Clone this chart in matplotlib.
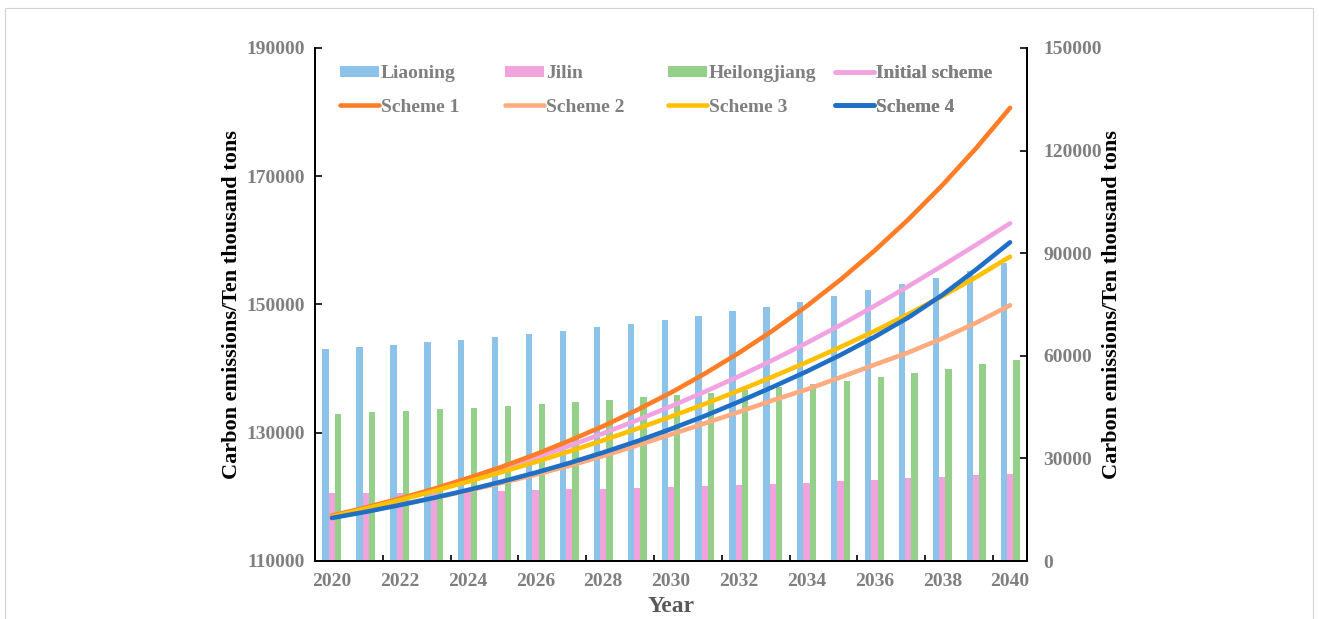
import numpy as np
import matplotlib
matplotlib.use("Agg")
import matplotlib.pyplot as plt
from matplotlib.lines import Line2D
from matplotlib.patches import Patch, Rectangle

plt.rcParams['font.family'] = ['Liberation Serif', 'DejaVu Serif']
plt.rcParams['font.weight'] = 'bold'

years = list(range(2020, 2041))

# provincial emissions (right axis)
liaoning = [61900, 62490, 63160, 63950, 64710, 65500, 66370, 67340, 68330, 69390, 70470,
            71730, 73010, 74360, 75820, 77490, 79150, 80910, 82840, 84710, 87140]
jilin = [19800, 19850, 19970, 20180, 20380, 20560, 20760, 20970, 21140, 21430, 21730,
         22020, 22310, 22600, 22900, 23300, 23690, 24180, 24650, 25060, 25530]
heilongjiang = [42980, 43480, 43950, 44360, 44830, 45320, 45910, 46490, 47160, 47870, 48540,
                49210, 50000, 50790, 51750, 52720, 53890, 54970, 56230, 57520, 58770]

# scenario totals (left axis)
initial_scheme = [116940, 118270, 119670, 121150, 122710, 124360, 126110, 127950, 129900, 131960, 134130,
                  136400, 138800, 141330, 144000, 146800, 149770, 152840, 156040, 159310, 162660]
scheme_1 = [117070, 118340, 119730, 121240, 122900, 124670, 126620, 128750, 131040, 133550, 136260,
            139230, 142440, 145930, 149740, 153870, 158380, 163260, 168590, 174380, 180660]
scheme_2 = [116780, 117740, 118750, 119830, 120960, 122180, 123470, 124850, 126380, 128030, 129740,
            131470, 133240, 135050, 136750, 138650, 140600, 142520, 144700, 147150, 149880]
scheme_3 = [116910, 118190, 119510, 120900, 122350, 123860, 125440, 127090, 128820, 130630, 132520,
            134500, 136570, 138740, 141000, 143370, 145850, 148500, 151300, 154260, 157460]
scheme_4 = [116710, 117670, 118720, 119840, 121060, 122370, 123770, 125280, 126920, 128680, 130590,
            132630, 134830, 137140, 139550, 142130, 144930, 147970, 151480, 155460, 159700]

gray = '#7f7f7f'
bar_colors = ['#8dc3e8', '#f0a3dd', '#95d08a']
line_colors = {'Initial scheme': '#f0a3e0', 'Scheme 1': '#ff7d27', 'Scheme 2': '#ffab80',
               'Scheme 3': '#ffc000', 'Scheme 4': '#1f6fc6'}

fig = plt.figure(figsize=(13.19, 6.19), dpi=100)
fig.patches.append(Rectangle((5 / 1319, -0.1), 1308 / 1319, 1.1 - 8 / 619, transform=fig.transFigure,
                             fill=False, edgecolor='#d4d4d4', lw=0.8))

ax = fig.add_axes([315 / 1319, 1 - 561 / 619, 712 / 1319, 513 / 619])
ax2 = ax.twinx()

x = np.arange(len(years))
w = 0.186
ax2.bar(x - w, liaoning, w, color=bar_colors[0])
ax2.bar(x, jilin, w, color=bar_colors[1])
ax2.bar(x + w, heilongjiang, w, color=bar_colors[2])

# lines go on top of the bars
ax.set_zorder(ax2.get_zorder() + 1)
ax.patch.set_visible(False)

series = [('Initial scheme', initial_scheme), ('Scheme 1', scheme_1), ('Scheme 2', scheme_2),
          ('Scheme 3', scheme_3), ('Scheme 4', scheme_4)]
for name, vals in series:
    ax.plot(x, vals, color=line_colors[name], lw=3.3, solid_capstyle='round')

ax.set_xlim(-0.5, 20.5)
ax.set_ylim(110000, 190000)
ax2.set_ylim(0, 150000)
ax.set_yticks(np.arange(110000, 190001, 20000))
ax2.set_yticks(np.arange(0, 150001, 30000))
ax.set_xticks(x[::2])
ax.set_xticklabels([str(y) for y in years[::2]])
ax.set_xticks(np.arange(1.5, 20, 2), minor=True)

ax.tick_params(axis='x', which='major', length=0, pad=9, labelsize=14, labelcolor=gray)
ax.tick_params(axis='x', which='minor', direction='in', length=4, width=1.2)
ax.tick_params(axis='y', direction='in', length=5, width=1.2, labelsize=14, labelcolor=gray, pad=7)
ax2.tick_params(axis='y', direction='in', length=5, width=1.2, labelsize=14, labelcolor=gray, pad=12)

for a in (ax, ax2):
    a.spines['top'].set_visible(False)
    for s in ('left', 'right', 'bottom'):
        a.spines[s].set_linewidth(1.3)

ylab = 'Carbon emissions/Ten thousand tons'
ax.set_ylabel(ylab, fontsize=16, fontweight='bold')
ax.yaxis.set_label_coords(-0.103, 0.5)
ax2.set_ylabel(ylab, fontsize=16, fontweight='bold')
ax2.yaxis.set_label_coords(1.105, 0.5)
ax.set_xlabel('Year', fontsize=17, fontweight='bold', color='#595959')
ax.xaxis.set_label_coords(0.5, -0.068)

# legend laid out in four fixed-width columns
def patch(c):
    return Patch(facecolor=c, edgecolor='none')

def line(c):
    return Line2D([], [], color=c, lw=3.3, solid_capstyle='round')

columns = [
    ([patch(bar_colors[0]), line(line_colors['Scheme 1'])], ['Liaoning', 'Scheme 1']),
    ([patch(bar_colors[1]), line(line_colors['Scheme 2'])], ['Jilin', 'Scheme 2']),
    ([patch(bar_colors[2]), line(line_colors['Scheme 3'])], ['Heilongjiang', 'Scheme 3']),
    ([line(line_colors['Initial scheme']), line(line_colors['Scheme 4'])], ['Initial scheme', 'Scheme 4']),
]
col_x = [0.0351, 0.2669, 0.4958, 0.7303]
for xf, (handles, labels) in zip(col_x, columns):
    leg = ax.legend(handles, labels, loc='center left', bbox_to_anchor=(xf, 0.917), frameon=False,
                    prop={'weight': 'bold', 'size': 14}, labelcolor=gray, handlelength=2.0,
                    handleheight=0.55, handletextpad=0.1, labelspacing=0.85, borderpad=0, borderaxespad=0)
    ax.add_artist(leg)

fig.savefig('out.png', dpi=100)
